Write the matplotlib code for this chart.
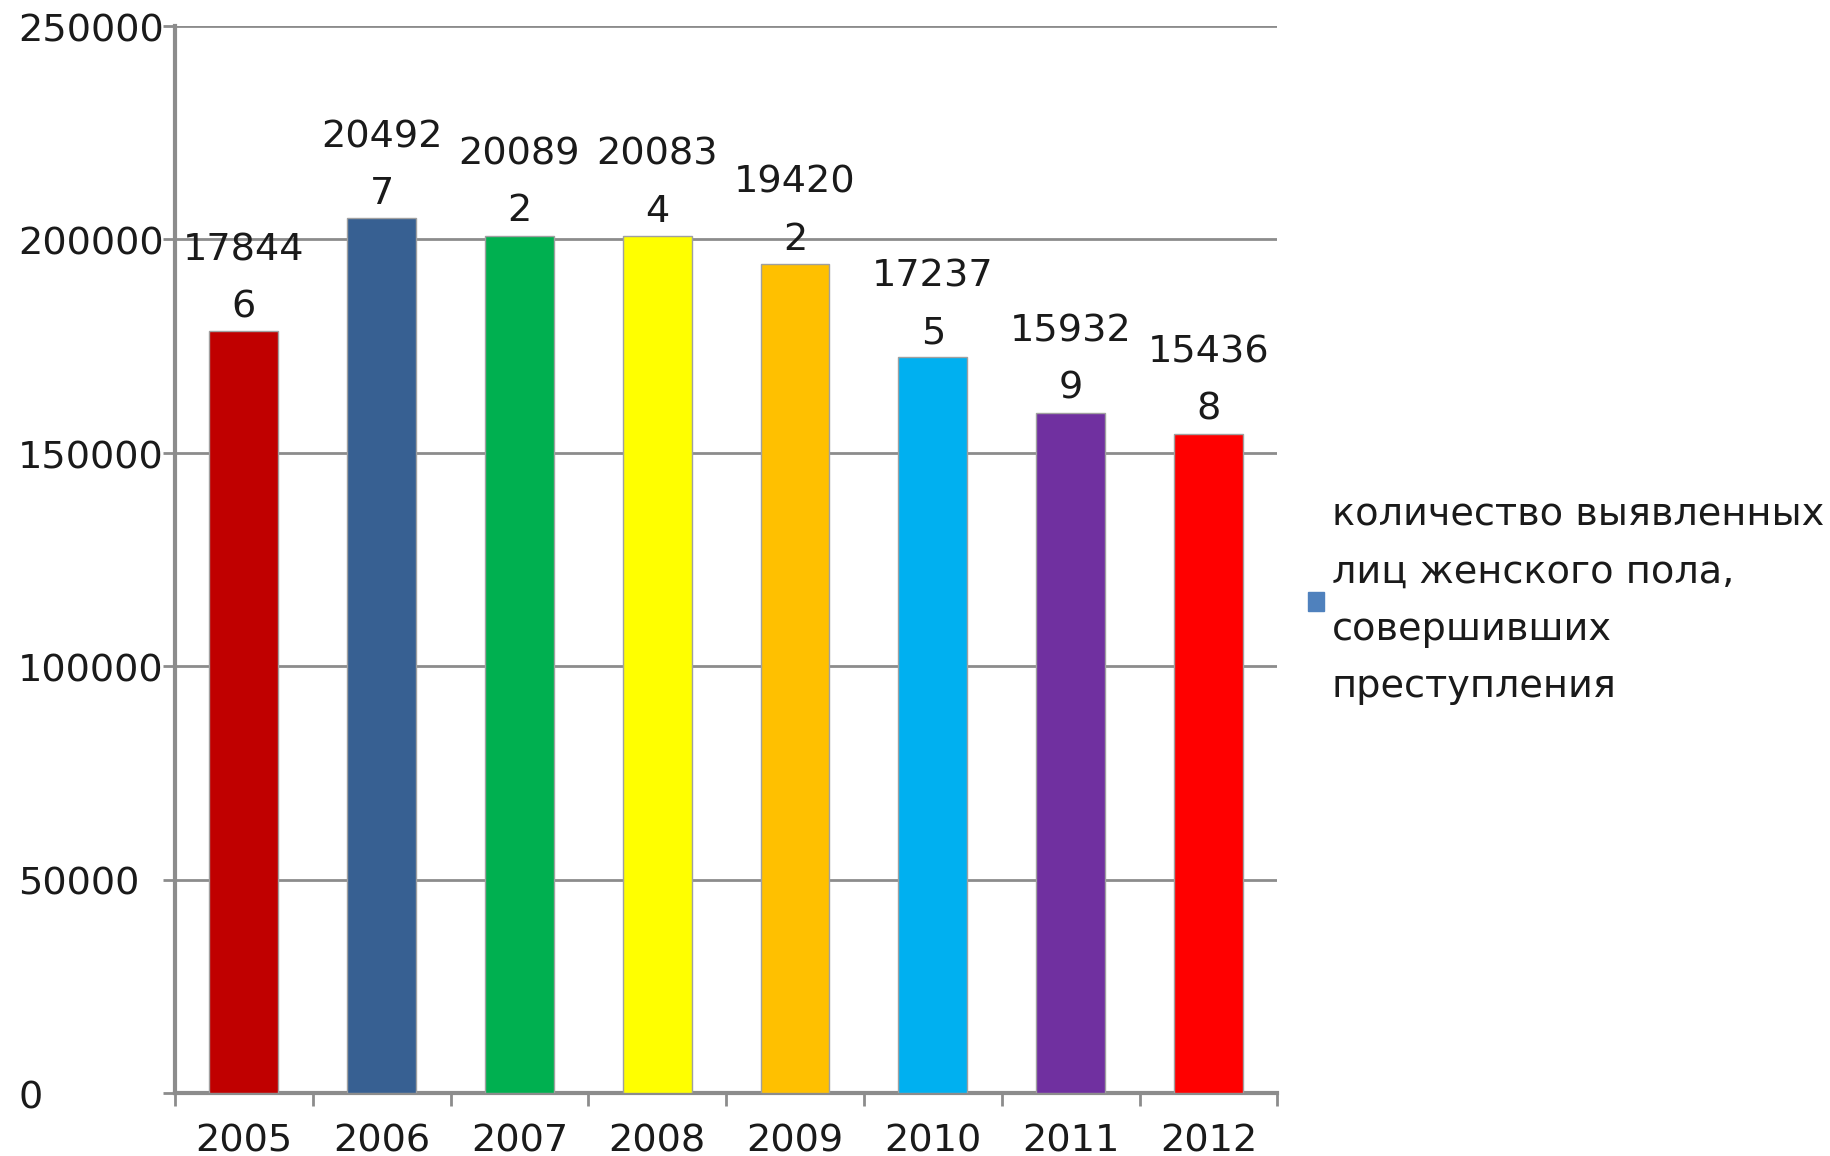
import matplotlib

matplotlib.use("Agg")
import matplotlib.pyplot as plt
import matplotlib.transforms as mtransforms
from matplotlib.patches import Patch

years = ["2005", "2006", "2007", "2008", "2009", "2010", "2011", "2012"]
counts = [178446, 204927, 200892, 200834, 194202, 172375, 159329, 154368]
bar_colors = ["#C00000", "#376092", "#00B050", "#FFFF00",
              "#FFC000", "#00B0F0", "#7030A0", "#FF0000"]
legend_label = "количество выявленных\nлиц женского пола,\nсовершивших\nпреступления"
yticks = [0, 50000, 100000, 150000, 200000, 250000]

FS = 27.5
GRID = "#8c8c8c"
TXT = "#1a1a1a"

plt.rcParams["font.family"] = ["DejaVu Sans"]

fig = plt.figure(figsize=(18.3, 11.56), dpi=100)
ax = fig.add_axes([0.0956, 0.0545, 0.6024, 0.923])

x = list(range(len(years)))
ax.bar(x, counts, width=0.5, color=bar_colors, edgecolor="#a0a0a0",
       linewidth=1.0, zorder=3)

# data labels wrap after the fifth digit, like the original
for xi, v in zip(x, counts):
    s = str(v)
    ax.annotate(s[:-1] + "\n" + s[-1], (xi, v), xytext=(0, 4.5),
                textcoords="offset points", ha="center", va="bottom",
                fontsize=FS, color=TXT, linespacing=1.75)

ax.set_xlim(-0.5, len(years) - 0.5)
ax.set_ylim(0, 250000)
ax.set_yticks(yticks)
ax.set_yticklabels([str(t) for t in yticks], fontsize=FS, color=TXT)
ax.tick_params(axis="y", length=9, width=2, color=GRID, pad=104)
shift = mtransforms.ScaledTranslation(0, -1 / 72, fig.dpi_scale_trans)
for lbl in ax.get_yticklabels():
    lbl.set_horizontalalignment("left")
    lbl.set_transform(lbl.get_transform() + shift)
ax.yaxis.grid(True, color=GRID, linewidth=2, zorder=0)
ax.set_axisbelow(True)

# category labels at centers, tick marks between categories
ax.set_xticks(x)
ax.set_xticklabels(years, fontsize=FS, color=TXT)
ax.tick_params(axis="x", length=0, pad=22)
ax.set_xticks([i - 0.5 for i in range(len(years) + 1)], minor=True)
ax.tick_params(axis="x", which="minor", length=9, width=2, color=GRID,
               direction="out")

for side in ("top", "right"):
    ax.spines[side].set_visible(False)
for side in ("left", "bottom"):
    ax.spines[side].set_color(GRID)
    ax.spines[side].set_linewidth(3)

handle = Patch(facecolor="#4F81BD", edgecolor="#4F81BD")
leg = fig.legend([handle], [legend_label], loc="center left",
                 bbox_to_anchor=(0.696, 0.480), frameon=False, fontsize=FS,
                 handlelength=0.42, handleheight=0.42, handletextpad=0.2)
for t in leg.get_texts():
    t.set_linespacing(1.75)
    t.set_color(TXT)

fig.savefig("out.png", dpi=100)
